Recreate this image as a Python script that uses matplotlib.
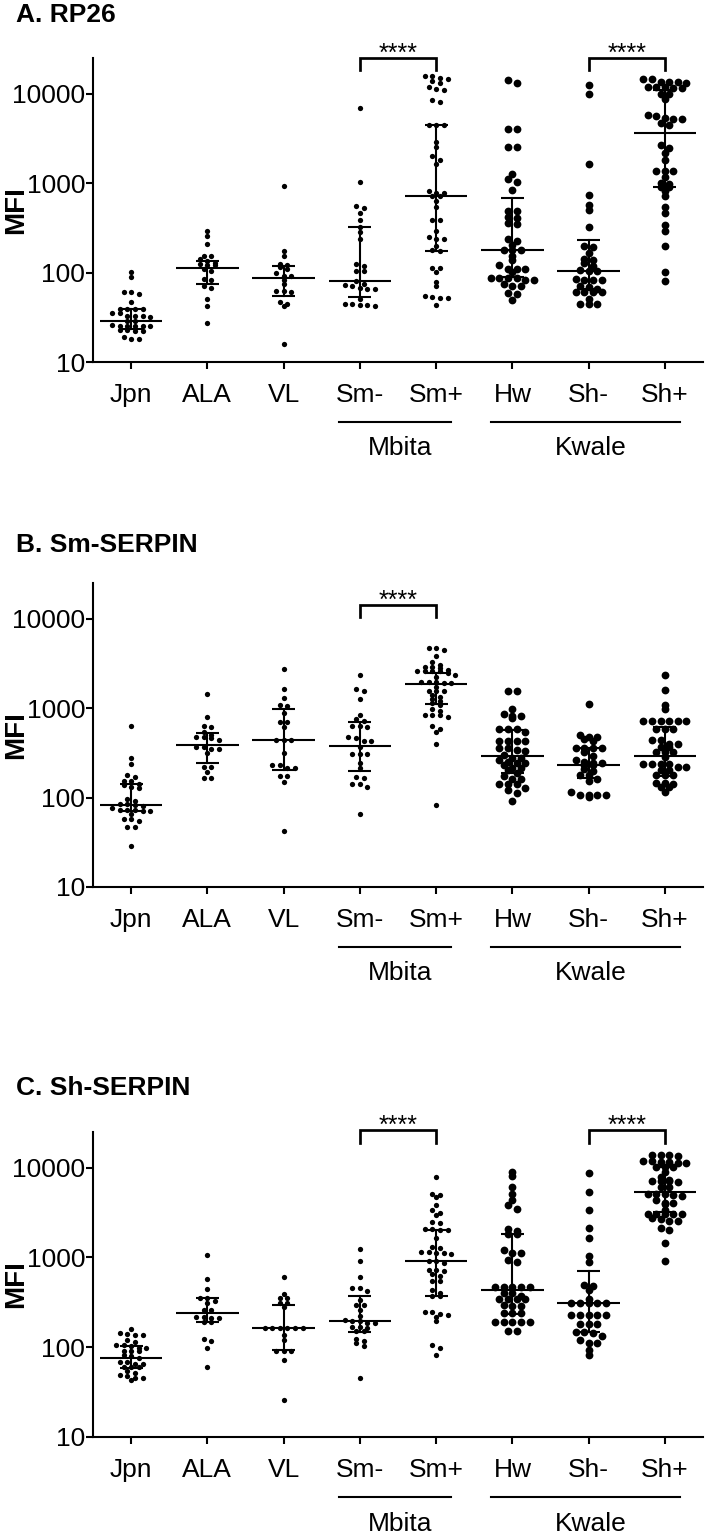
import numpy as np
import matplotlib
matplotlib.use('Agg')
import matplotlib.pyplot as plt

plt.rcParams['font.family'] = ['Liberation Sans', 'DejaVu Sans']

groups = ['Jpn', 'ALA', 'VL', 'Sm-', 'Sm+', 'Hw', 'Sh-', 'Sh+']
large_groups = ['Hw', 'Sh-', 'Sh+']
titles = ['A. RP26', 'B. Sm-SERPIN', 'C. Sh-SERPIN']

# ---------------- Panel A: RP26 ----------------
a_jpn = [101, 90, 61, 57, 61, 47, 39, 39, 39, 39, 35, 35, 33, 32, 33, 33, 29, 29, 26, 25,
         25, 25, 25, 25, 22, 23, 23, 22, 19, 18, 18]
a_ala = [294, 254, 207, 155, 155, 140, 134, 128, 125, 120, 120, 110, 105, 84, 83, 71, 67, 50, 42, 27]
a_vl = [933, 176, 152, 125, 120, 114, 110, 99, 92, 92, 83, 75, 62, 61, 62, 47, 45, 42, 16]
a_smn = [6970, 1023, 548, 526, 462, 387, 325, 281, 237, 124, 117, 105, 103, 80, 75, 72, 71, 67,
         66, 66, 50, 45, 44, 43, 43, 42]
a_smp = [15700, 14800, 13800, 13200, 14400, 15700, 11800, 10900, 11400, 8470, 8120, 4460, 4460,
         4460, 2910, 2540, 1995, 1830, 1625, 765, 721, 709, 765, 805, 634, 534, 389, 386, 294, 235,
         235, 248, 198, 179, 176, 113, 113, 101, 79, 71, 52, 52, 54, 53, 43]
a_hw = [14060, 13240, 4030, 4030, 2535, 2535, 1260, 1117, 1024, 834, 491, 491, 421, 403, 354, 348,
        235, 227, 205, 180, 179, 179, 153, 138, 120, 110, 110, 110, 101, 86, 86, 86, 86, 83, 83,
        75, 70, 70, 59, 58, 49]
a_shn = [12360, 9800, 1625, 740, 573, 499, 325, 200, 192, 166, 142, 138, 127, 117, 108, 105, 103,
         84, 82, 82, 82, 71, 69, 66, 61, 61, 61, 61, 50, 45, 45, 45]
a_shp = [14660, 14410, 13580, 13580, 13580, 13240, 11820, 11820, 11820, 11640, 11440, 9970, 9800,
         8770, 5720, 5620, 5380, 5200, 5200, 4740, 4460, 2694, 2494, 2193, 1833, 1371, 1371, 1371,
         1175, 997, 973, 893, 893, 805, 715, 544, 466, 343, 289, 196, 101, 81]
a_med = [29, 113, 86, 80, 709, 180, 105, 3610]
a_q1 = [23.5, 75, 54, 53, 176, 89, 66, 893]
a_q3 = [39, 136, 117, 325, 4460, 673, 233, 10870]
a_pairs = [(3, 4), (6, 7)]
a_bracket_top = 25100
a_bracket_leg = 18450

# ---------------- Panel B: Sm-SERPIN ----------------
b_jpn = [632, 275, 235, 179, 171, 154, 154, 142, 138, 131, 127, 96, 91, 84, 84, 82, 80, 76, 72,
         72, 72, 71, 70, 66, 58, 57, 54, 47, 47, 29]
b_ala = [1445, 785, 638, 622, 538, 501, 470, 470, 460, 441, 371, 371, 352, 352, 318, 218, 218,
         191, 167, 167]
b_vl = [2730, 1630, 1291, 1089, 1060, 877, 690, 690, 622, 441, 441, 441, 312, 233, 233, 216, 216,
        176, 176, 148, 42]
b_smn = [2360, 1630, 1535, 1259, 840, 758, 720, 638, 638, 622, 472, 460, 433, 433, 365, 307, 307,
         307, 245, 212, 169, 164, 140, 140, 132, 66]
b_smp = [4740, 4740, 4500, 3790, 3270, 3006, 2880, 2880, 2806, 2690, 2570, 2570, 2570, 2570, 2443,
         2360, 2200, 1972, 1972, 1972, 1905, 1905, 1700, 1535, 1535, 1535, 1384, 1316, 1250, 1206,
         1136, 1089, 973, 916, 840, 840, 840, 785, 633, 586, 538, 394, 82]
b_hw = [1555, 1555, 973, 862, 815, 815, 771, 586, 586, 586, 547, 431, 431, 431, 431, 356, 356, 341,
        330, 299, 279, 279, 260, 252, 241, 241, 230, 212, 212, 203, 190, 174, 161, 161, 140, 140,
        140, 127, 121, 111, 91]
b_shn = [1107, 501, 472, 472, 448, 430, 356, 356, 356, 356, 320, 294, 263, 252, 241, 241, 233, 233,
         207, 200, 177, 177, 161, 153, 114, 106, 106, 106, 106, 102]
b_shp = [2360, 1603, 1089, 981, 726, 726, 726, 726, 726, 726, 578, 578, 578, 437, 437, 399, 399,
         366, 366, 321, 321, 321, 287, 237, 237, 237, 237, 219, 219, 201, 201, 180, 180, 180, 147,
         147, 140, 131, 131, 114]
b_med = [82, 387, 441, 381, 1872, 292, 233, 292]
b_q1 = [70, 245, 203, 200, 1107, 186, 167, 174]
b_q3 = [141, 529, 981, 707, 2443, 571, 356, 617]
b_pairs = [(3, 4)]
b_bracket_top = 14100
b_bracket_leg = 10370

# ---------------- Panel C: Sh-SERPIN ----------------
c_jpn = [160, 144, 141, 136, 136, 121, 114, 105, 105, 102, 99, 99, 90, 90, 90, 82, 79, 75, 68, 68,
         65, 65, 61, 61, 61, 54, 52, 49, 48, 46, 45, 43]
c_ala = [1062, 582, 446, 351, 351, 330, 311, 262, 262, 220, 220, 213, 213, 190, 190, 123, 118, 99, 61]
c_vl = [608, 395, 354, 354, 308, 308, 278, 165, 165, 165, 165, 165, 165, 137, 121, 90, 90, 90, 73, 26]
c_smn = [1230, 910, 608, 457, 457, 427, 339, 292, 292, 262, 224, 202, 197, 194, 185, 185, 170, 170,
         163, 150, 150, 123, 116, 111, 104, 45]
c_smp = [7800, 5160, 4940, 4660, 3820, 3360, 3130, 2980, 2510, 2400, 2094, 2094, 2006, 2006, 1633,
         1316, 1261, 1157, 1157, 1128, 1128, 1081, 910, 910, 871, 734, 734, 703, 656, 618, 553, 553,
         431, 402, 369, 369, 244, 244, 234, 226, 215, 194, 106, 97, 82]
c_hw = [8870, 8000, 6130, 5070, 4380, 3850, 3510, 2057, 1970, 1808, 1808, 1198, 1128, 1128, 942, 887,
        466, 466, 466, 466, 466, 402, 402, 369, 347, 347, 347, 347, 298, 285, 285, 240, 240, 240,
        189, 189, 189, 189, 189, 151, 151]
c_shn = [8650, 5300, 3360, 2113, 1660, 1036, 894, 499, 478, 431, 345, 311, 311, 311, 311, 311, 230,
         230, 230, 230, 230, 182, 182, 182, 147, 147, 144, 134, 121, 111, 111, 92, 82]
c_shp = [13930, 13930, 13930, 13610, 11780, 11780, 11480, 11480, 11190, 11190, 10170, 10170, 10170,
         8870, 7930, 7340, 7090, 7090, 7090, 6860, 6130, 6130, 5120, 5120, 5120, 4990, 4860, 4390,
         4060, 4060, 3920, 3360, 3030, 3030, 3030, 3030, 3030, 2730, 2660, 2530, 2530, 2150, 2006,
         1435, 925]
c_med = [75, 240, 162, 194, 925, 431, 311, 5300]
c_q1 = [59, 190, 93, 147, 369, 234, 147, 3240]
c_q3 = [102, 351, 298, 369, 2006, 1808, 703, 10170]
c_pairs = [(3, 4), (6, 7)]
c_bracket_top = 26000
c_bracket_leg = 18950

y_ticks = [10, 100, 1000, 10000]
y_tick_labels = ['10', '100', '1000', '10000']
region_labels = ['Mbita', 'Kwale']
region_spans = [(3, 4), (5, 7)]

panels = [
    dict(title=titles[0], data=[a_jpn, a_ala, a_vl, a_smn, a_smp, a_hw, a_shn, a_shp],
         med=a_med, q1=a_q1, q3=a_q3, pairs=a_pairs, btop=a_bracket_top, bleg=a_bracket_leg),
    dict(title=titles[1], data=[b_jpn, b_ala, b_vl, b_smn, b_smp, b_hw, b_shn, b_shp],
         med=b_med, q1=b_q1, q3=b_q3, pairs=b_pairs, btop=b_bracket_top, bleg=b_bracket_leg),
    dict(title=titles[2], data=[c_jpn, c_ala, c_vl, c_smn, c_smp, c_hw, c_shn, c_shp],
         med=c_med, q1=c_q1, q3=c_q3, pairs=c_pairs, btop=c_bracket_top, bleg=c_bracket_leg),
]

W, H = 706, 1537
DPI = 100
fig = plt.figure(figsize=(W / DPI, H / DPI), dpi=DPI, facecolor='white')

ax_left, ax_right = 93, 703
ax_tops = [58, 583, 1132]
ax_bottoms = [362, 887, 1437]
title_y = [15, 545, 1088]

FS = 19
LW = 1.5


def row_layout_x(ax, xc, vals, spacing, row_h):
    """Arrange points GraphPad-style: near-equal values form centred rows."""
    pts = ax.transData.transform(np.column_stack([np.full(len(vals), xc, dtype=float),
                                                  np.asarray(vals, dtype=float)]))
    ys = pts[:, 1]
    x0 = pts[0, 0]
    order = np.argsort(-ys, kind='stable')
    rows, cur, start = [], [order[0]], ys[order[0]]
    for i in order[1:]:
        if start - ys[i] <= row_h:
            cur.append(i)
        else:
            rows.append(cur)
            cur, start = [i], ys[i]
    rows.append(cur)
    off = np.zeros(len(vals))
    for r in rows:
        n = len(r)
        for k, i in enumerate(r):
            off[i] = (k - (n - 1) / 2) * spacing
    inv = ax.transData.inverted()
    return inv.transform(np.column_stack([x0 + off, ys]))[:, 0]


for k, p in enumerate(panels):
    top, bot = ax_tops[k], ax_bottoms[k]
    ax = fig.add_axes([ax_left / W, 1 - bot / H, (ax_right - ax_left) / W, (bot - top) / H])
    ax.set_yscale('log')
    ax.set_ylim(10, 25000)
    ax.set_xlim(-0.5, len(groups) - 0.5)
    for s in ['top', 'right']:
        ax.spines[s].set_visible(False)
    for s in ['left', 'bottom']:
        ax.spines[s].set_linewidth(LW)
    ax.set_yticks(y_ticks)
    ax.set_yticklabels(y_tick_labels)
    ax.yaxis.set_minor_locator(matplotlib.ticker.NullLocator())
    ax.set_xticks(range(len(groups)))
    ax.set_xticklabels(groups)
    ax.tick_params(axis='both', which='major', labelsize=FS, length=5, width=LW, direction='out')
    ax.tick_params(axis='y', pad=0.5)
    ax.tick_params(axis='x', pad=10)

    for gi, (g, vals) in enumerate(zip(groups, p['data'])):
        big = g in large_groups
        ms_pt = 5.6 if big else 3.8
        spacing = 8.6 if big else 7.6
        row_h = 4.0 if big else 3.5
        xs = row_layout_x(ax, gi, vals, spacing, row_h)
        ax.plot(xs, vals, 'o', color='black', markersize=ms_pt, markeredgewidth=0, zorder=2)
        ax.plot([gi - 0.41, gi + 0.41], [p['med'][gi]] * 2, color='black', lw=LW, zorder=3,
                solid_capstyle='butt')
        ax.plot([gi, gi], [p['q1'][gi], p['q3'][gi]], color='black', lw=LW, zorder=3)
        for q in (p['q1'][gi], p['q3'][gi]):
            ax.plot([gi - 0.15, gi + 0.15], [q, q], color='black', lw=LW, zorder=3,
                    solid_capstyle='butt')

    for (i, j) in p['pairs']:
        ax.plot([i, i, j, j], [p['bleg'], p['btop'], p['btop'], p['bleg']], color='black',
                lw=LW * 1.3, clip_on=False, solid_joinstyle='miter')
        ax.annotate('****', xy=((i + j) / 2, p['btop']), xytext=(0, -2),
                    textcoords='offset points', ha='center', va='baseline', fontsize=18,
                    annotation_clip=False)

    tr = ax.get_xaxis_transform()
    for lab, (i, j) in zip(region_labels, region_spans):
        ax.plot([i - 0.28, j + 0.2], [-0.197, -0.197], color='black', lw=LW, transform=tr,
                clip_on=False)
        ax.text((i + j) / 2 + 0.03, -0.284, lab, transform=tr, ha='center', va='center',
                fontsize=FS)

    fig.text(16 / W, 1 - title_y[k] / H, p['title'], fontsize=19, fontweight='bold',
             ha='left', va='center')
    fig.text(16 / W, 1 - (top + bot) / 2 / H, 'MFI', fontsize=20, fontweight='bold',
             rotation=90, ha='center', va='center')

fig.savefig('out.png', dpi=DPI, facecolor='white')
